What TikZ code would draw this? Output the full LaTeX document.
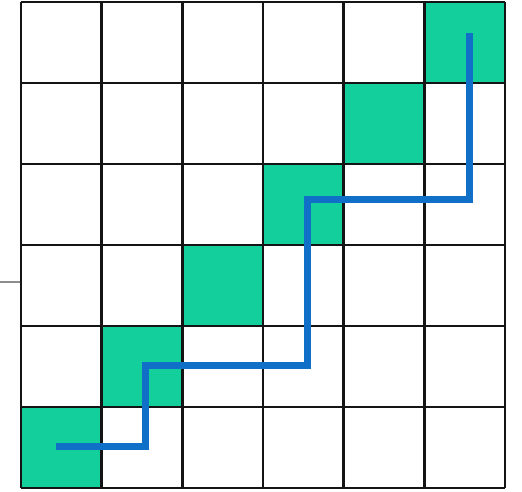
\documentclass[tikz,border=0pt]{standalone}
\begin{document}
\begin{tikzpicture}[x=1pt,y=-1pt,
  gridline/.style={line width=2.6pt,black!92},
  cellfill/.style={fill={rgb,255:red,18;green,207;blue,155}},
  route/.style={line width=7pt,draw={rgb,255:red,16;green,112;blue,200}}]
\useasboundingbox (0,0) rectangle (522,492);
\fill[white] (0,0) rectangle (522,492);
% green diagonal cells
\foreach \c in {0,...,5}{
  \pgfmathsetmacro{\xa}{21+80.67*\c}
  \pgfmathsetmacro{\ya}{2+81*(5-\c)}
  \fill[cellfill] (\xa,\ya) rectangle ++(80.67,81);
}
% grid
\foreach \i in {0,...,6}{
  \pgfmathsetmacro{\p}{21+80.67*\i}
  \pgfmathsetmacro{\q}{2+81*\i}
  \draw[gridline] (\p,2) -- (\p,488);
  \draw[gridline] (21,\q) -- (505,\q);
}
% small gray tick on left
\draw[line width=1.2pt,black!45] (0,282) -- (20,282);
% route
\coordinate (s) at (56,446);
\coordinate (a) at (145,446);
\coordinate (b) at (145,365);
\coordinate (c) at (307,365);
\coordinate (d) at (307,199);
\coordinate (e) at (469,199);
\coordinate (f) at (469,33);
\draw[route] (s) -- (a) -- (b) -- (c) -- (d) -- (e) -- (f);
\end{tikzpicture}
\end{document}
